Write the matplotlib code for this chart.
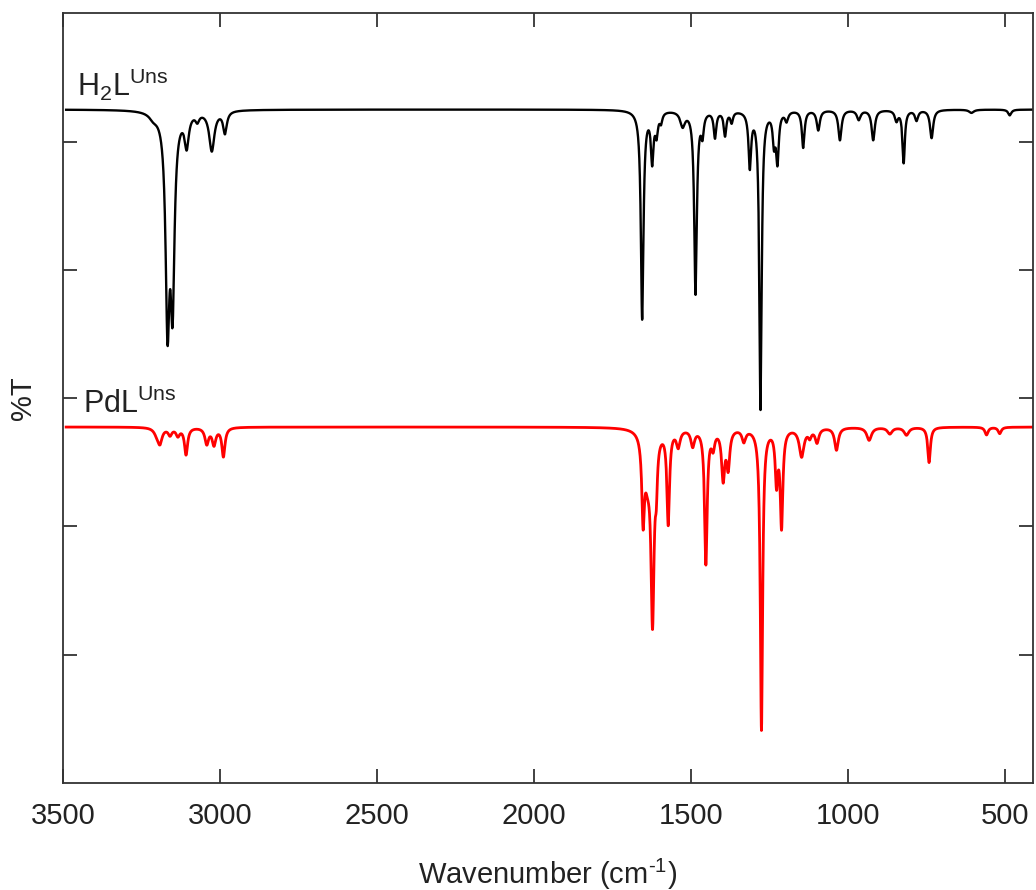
import numpy as np
import matplotlib
matplotlib.use("Agg")
import matplotlib.pyplot as plt

# ---------------- data ----------------
# Spectra are described by their absorption bands: position (cm-1),
# depth (%T units) and half width (cm-1).
h2l_baseline = 105.0
h2l_pos = [3212, 3167, 3151, 3106, 3072, 3026, 2984,
           1655, 1623, 1609, 1595, 1526, 1485, 1463, 1423, 1391, 1370,
           1312, 1278, 1235, 1224, 1195, 1142, 1094, 1025, 965, 919,
           845, 822, 781, 733, 606, 484]
h2l_depth = [0.8, 31.5, 28.0, 5.0, 1.2, 6.2, 3.4,
             32.5, 7.6, 3.3, 1.5, 2.3, 28.5, 3.3, 4.1, 3.8, 1.7,
             8.5, 46.5, 4.6, 7.6, 1.5, 5.8, 3.1, 4.7, 1.5, 4.7,
             1.6, 8.2, 1.6, 4.4, 0.5, 0.9]
h2l_width = [15, 7.5, 7.5, 8, 7, 10, 7,
             5, 5, 5, 5, 9, 5, 5, 5, 5, 5,
             5, 4.5, 5, 5, 6, 5, 6, 6, 7, 6,
             6, 4.5, 6, 6, 9, 6]

pdl_baseline = 55.5
pdl_pos = [3200, 3191, 3159, 3134, 3108, 3042, 3019, 2989,
           1652, 1638, 1622, 1610, 1572, 1540, 1494, 1452, 1429, 1397,
           1381, 1331, 1275, 1227, 1211, 1147, 1121, 1098, 1036, 932,
           866, 813, 741, 558, 516]
pdl_depth = [1.0, 2.1, 1.1, 1.2, 4.2, 2.5, 2.6, 4.5,
             12.5, 6.0, 28.5, 6.0, 14.5, 2.6, 2.6, 21.0, 2.6, 7.6,
             5.8, 1.9, 47.0, 8.0, 15.0, 4.4, 1.2, 2.2, 3.5, 2.0,
             1.0, 1.2, 5.5, 1.2, 1.0]
pdl_width = [11, 8, 7, 7, 6, 7, 7, 6,
             5, 11, 6, 4, 5, 7, 7, 5, 6, 6,
             6, 7, 4.5, 5, 5, 9, 6, 7, 7, 9,
             9, 9, 5, 6, 6]

series_labels = [r"H$_2$L$^{\mathrm{Uns}}$", r"PdL$^{\mathrm{Uns}}$"]
series_colors = ["black", "red"]
xticks = [3500, 3000, 2500, 2000, 1500, 1000, 500]
yticks = [20, 40, 60, 80, 100]


def spectrum(wn, base, pos, depth, width):
    y = np.full_like(wn, base, dtype=float)
    for p, d, w in zip(pos, depth, width):
        y -= d / (1.0 + ((wn - p) / w) ** 2)
    return y


plt.rcParams['font.family'] = ['Liberation Sans', 'DejaVu Sans']
plt.rcParams['mathtext.fontset'] = 'custom'
plt.rcParams['mathtext.rm'] = 'Liberation Sans'
plt.rcParams['mathtext.it'] = 'Liberation Sans:italic'
plt.rcParams['mathtext.bf'] = 'Liberation Sans:bold'

fig = plt.figure(figsize=(10.36, 8.90), dpi=100)
ax = fig.add_axes([63 / 1036, 1 - 783 / 890, (1033 - 63) / 1036, (783 - 13.3) / 890])

wn = np.linspace(400, 3490, 12000)
y1 = spectrum(wn, h2l_baseline, h2l_pos, h2l_depth, h2l_width)
y2 = spectrum(wn, pdl_baseline, pdl_pos, pdl_depth, pdl_width)
ax.plot(wn, y1, color=series_colors[0], lw=1.7)
ax.plot(wn, y2, color=series_colors[1], lw=2.0)

ax.set_xlim(3500, 410)
ax.set_ylim(0, 120)
ax.set_xticks(xticks)
ax.set_yticks(yticks)
ax.set_yticklabels([])
ax.tick_params(direction='in', length=10, width=1.3, top=True, right=True,
               labelsize=21, pad=14, color='#333333', labelcolor='#222222')
for s in ax.spines.values():
    s.set_linewidth(1.3)
    s.set_color('#333333')

ax.set_xlabel(r"Wavenumber (cm$^{\text{-}1}$)", fontsize=21, labelpad=19, color='#222222')
ax.set_ylabel("%T", fontsize=21, labelpad=5, color='#222222')

ax.text(3455, h2l_baseline + 2.2, series_labels[0], fontsize=22, color='#222222',
        ha='left', va='baseline')
ax.text(3435, pdl_baseline + 2.2, series_labels[1], fontsize=22, color='#222222',
        ha='left', va='baseline')

fig.savefig("out.png", dpi=100)
